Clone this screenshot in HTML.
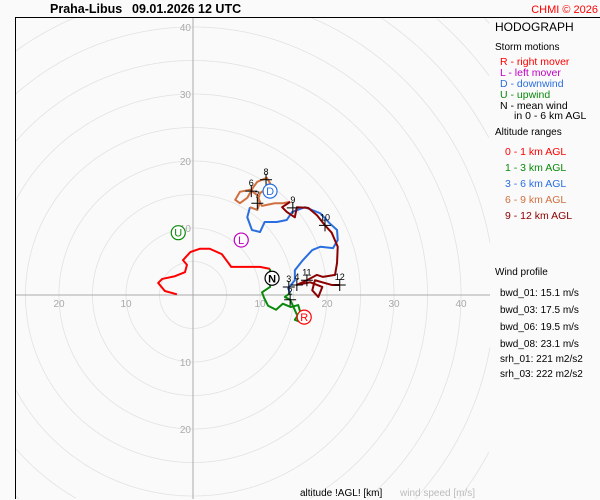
<!DOCTYPE html>
<html><head><meta charset="utf-8"><style>
html,body{margin:0;padding:0;width:600px;height:500px;overflow:hidden;background:#fafafa;font-family:"Liberation Sans",sans-serif;}
svg{display:block;overflow:hidden}
</style></head><body>
<svg width="600" height="500" viewBox="0 0 600 500" xmlns="http://www.w3.org/2000/svg" font-family="Liberation Sans, sans-serif">
<rect x="0" y="0" width="600" height="500" fill="#fafafa"/>
<g id="grid"></g>
<line x1="15" y1="17.5" x2="600" y2="17.5" stroke="#000"/>
<line x1="15.5" y1="17" x2="15.5" y2="499" stroke="#000"/>
<text x="50" y="13" font-size="12.5" font-weight="bold">Praha-Libus</text>
<text x="132" y="13" font-size="12.5" font-weight="bold">09.01.2026 12 UTC</text>
<text x="598" y="13" font-size="11" fill="#f00" text-anchor="end">CHMI © 2026</text>
<g id="traces"></g>
<g id="marks"></g>
<g id="storms"></g>
<g font-size="11">
<text x="495" y="31" font-size="12">HODOGRAPH</text>
<text x="495" y="50" font-size="10">Storm motions</text>
<text x="500" y="65" font-size="10.5" fill="#f00">R - right mover</text>
<text x="500" y="76" font-size="10.5" fill="#c000c0">L - left mover</text>
<text x="500" y="87" font-size="10.5" fill="#2a6ee0">D - downwind</text>
<text x="500" y="98" font-size="10.5" fill="#0a8a0a">U - upwind</text>
<text x="500" y="109" font-size="10.5">N - mean wind</text>
<text x="514" y="119" font-size="10.5">in 0 - 6 km AGL</text>
<text x="495" y="135" font-size="10">Altitude ranges</text>
<text x="505" y="155" font-size="10.5" fill="#f00">0 - 1 km AGL</text>
<text x="505" y="171" font-size="10.5" fill="#0a8a0a">1 - 3 km AGL</text>
<text x="505" y="187" font-size="10.5" fill="#2a6ee0">3 - 6 km AGL</text>
<text x="505" y="203" font-size="10.5" fill="#d07040">6 - 9 km AGL</text>
<text x="505" y="219" font-size="10.5" fill="#8b0000">9 - 12 km AGL</text>
<text x="495" y="275" font-size="10">Wind profile</text>
<text x="500" y="296" font-size="10">bwd_01: 15.1 m/s</text>
<text x="500" y="313" font-size="10">bwd_03: 17.5 m/s</text>
<text x="500" y="330" font-size="10">bwd_06: 19.5 m/s</text>
<text x="500" y="347" font-size="10">bwd_08: 23.1 m/s</text>
<text x="500" y="362" font-size="10">srh_01: 221 m2/s2</text>
<text x="500" y="377" font-size="10">srh_03: 222 m2/s2</text>
</g>
<text x="300" y="496" font-size="10">altitude !AGL! [km]</text>
<text x="400" y="496" font-size="10" fill="#bbb">wind speed [m/s]</text>
<script>
const ringValues=[5,10,15,20,25,30,35,40,45,50,55,60,65];
const xTicks=[-20,-10,10,20,30,40];
const yTicks=[40,30,20,10,-10,-20];
const seg01U=[-2.4,-4.2,-5.2,-4.6,-2.7,-1.2,-0.9,-1.5,-0.4,1.0,2.5,4.3,5.2,5.7,7.8,10.0,11.5];
const seg01V=[0.1,0.6,1.8,2.4,2.8,3.4,4.5,5.2,6.4,6.9,6.9,6.1,4.9,4.2,4.2,4.2,3.9];
const seg13U=[11.5,11.5,10.3,10.6,11.2,12.4,13.4,14.6,15.7,16.0,15.2,16.0,15.4,14.5,13.7,14.5];
const seg13V=[3.9,1.2,0.4,-0.4,-1.6,-2.2,-1.3,-1.8,-1.5,-2.5,-3.7,-4.0,-2.7,-0.7,-0.3,0.3];
const seg36U=[14.5,14.2,15.2,15.2,16.4,17.8,19.0,20.9,21.6,21.5,20.4,19.0,16.7,14.8,14.0,12.5,10.7,10.0,8.8,8.1,8.5];
const seg36V=[0.3,1.0,2.2,3.7,5.2,6.7,7.2,7.0,8.2,9.7,10.7,12.2,13.1,12.4,11.2,10.9,10.9,9.4,9.7,11.6,13.1];
const seg69U=[8.5,9.6,10.0,9.6,8.5,7.0,6.3,7.0,8.1,9.0,9.6,11.0,11.5,10.7,10.0,9.7,10.3,12.2,13.4,14.5];
const seg69V=[13.1,12.7,13.9,14.9,15.7,15.4,14.2,13.7,14.5,16.1,16.9,17.5,16.7,15.7,15.2,14.2,13.3,13.7,13.7,13.9];
const seg912U=[14.5,13.3,14.0,15.2,15.5,17.2,18.5,19.7,20.7,21.6,21.5,21.2,19.4,18.5,17.0,15.5,17.5,19.3,18.7,17.8,18.2,20.7,21.9];
const seg912V=[13.9,13.1,12.4,11.6,13.1,13.0,11.9,10.4,9.3,7.2,4.8,3.0,2.7,3.0,2.2,1.5,1.9,1.2,-0.3,0.7,2.2,1.5,1.5];
const markLabels=['2','3','4','6','7','8','9','10','11','12'];
const markU=[14.5,14.3,15.5,8.7,9.6,10.9,14.9,19.7,17.0,21.9];
const markV=[-0.7,1.2,1.5,15.5,13.7,17.2,13.0,10.4,2.2,1.5];
const stormLabels=['N','R','L','U','D'];
const stormU=[11.8,16.6,7.2,-2.2,11.5];
const stormV=[2.5,-3.3,8.2,9.3,15.5];
const stormColors=['#000','#f00','#c000c0','#0a8a0a','#2a6ee0'];

const NS='http://www.w3.org/2000/svg';
const CX=193,CY=295,S=6.7;
const X0=15,X1=490,Y0=17,Y1=499;
const sx=u=>CX+u*S, sy=v=>CY-v*S;
function mk(tag,attrs,parent){const e=document.createElementNS(NS,tag);for(const k in attrs)e.setAttribute(k,attrs[k]);parent.appendChild(e);return e;}
const grid=document.getElementById('grid');
ringValues.forEach(r=>{
  let d='',pen=false;
  for(let k=0;k<=720;k++){const t=k*Math.PI/360;const x=CX+r*S*Math.cos(t),y=CY+r*S*Math.sin(t);
    if(x>=X0&&x<=X1&&y>=Y0&&y<=Y1){d+=(pen?'L':'M')+x.toFixed(1)+' '+y.toFixed(1);pen=true;}else pen=false;}
  if(!d)return;
  const c=mk('path',{d:d,fill:'none',stroke:'#e2e2e2','stroke-width':0.8},grid);
  
  });
let a=mk('line',{x1:X0,y1:CY,x2:X1,y2:CY,stroke:'#aaa'},grid);


a=mk('line',{x1:CX,y1:Y0,x2:CX,y2:Y1,stroke:'#aaa'},grid);


xTicks.forEach(t=>{const e=mk('text',{x:sx(t),y:CY+12,'font-size':10,fill:'#aaa','text-anchor':'middle'},grid);e.textContent=Math.abs(t);

});
yTicks.forEach(t=>{const e=mk('text',{x:CX-2,y:sy(t)+4,'font-size':10,fill:'#aaa','text-anchor':'end'},grid);e.textContent=Math.abs(t);

});
const tr=document.getElementById('traces');
[[seg01U,seg01V,'#f00','trace-0-1km'],[seg13U,seg13V,'#0a8a0a','trace-1-3km'],[seg36U,seg36V,'#2a6ee0','trace-3-6km'],[seg69U,seg69V,'#d07040','trace-6-9km'],[seg912U,seg912V,'#8b0000','trace-9-12km']].forEach(([U,V,c,n])=>{
const p=mk('polyline',{points:U.map((u,i)=>sx(u)+','+sy(V[i])).join(' '),fill:'none',stroke:c,'stroke-width':2,'stroke-linejoin':'round'},tr);

});
const mg=document.getElementById('marks');
markLabels.forEach((l,i)=>{const x=sx(markU[i]),y=sy(markV[i]);
const p=mk('path',{d:`M${x-6} ${y}H${x+6}M${x} ${y-6}V${y+6}`,stroke:'#000','stroke-width':1},mg);


const t=mk('text',{x:x,y:y-5,'font-size':9,'text-anchor':'middle'},mg);t.textContent=l;

});
const sg=document.getElementById('storms');
stormLabels.forEach((l,i)=>{const x=sx(stormU[i]),y=sy(stormV[i]);
const c=mk('circle',{cx:x,cy:y,r:7,fill:'#fff',stroke:stormColors[i],'stroke-width':1.2},sg);


const t=mk('text',{x:x,y:y+4,'font-size':11,'text-anchor':'middle',fill:stormColors[i],'font-weight':l==='N'?'bold':'normal'},sg);t.textContent=l;

});
</script>
</svg>
</body></html>
